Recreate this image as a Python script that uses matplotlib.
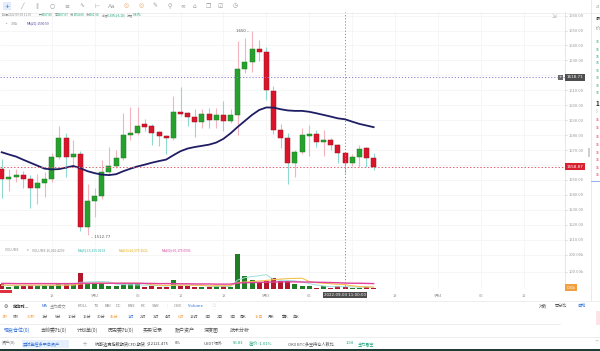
import numpy as np
import matplotlib
matplotlib.use("Agg")
import matplotlib.pyplot as plt
from matplotlib import transforms
from matplotlib.lines import Line2D
from matplotlib.patches import Rectangle

plt.rcParams['font.family'] = ['Noto Sans CJK SC', 'DejaVu Sans']

W, H = 600, 351

# hourly candles 2022-09-01 11:00 .. 2022-09-03 15:00
opens = [1557.1, 1550.4, 1552.2, 1553.3, 1550.6, 1544.8, 1548.2, 1550.4, 1565.6, 1577.9,
         1565.6, 1567.4, 1518.7, 1536.1, 1539.4, 1555.1, 1559.6, 1564.5, 1580.1, 1581.6,
         1587.3, 1586.1, 1581.9, 1579.6, 1578.0, 1595.7, 1594.6, 1591.8, 1588.7, 1594.0,
         1590.1, 1593.5, 1589.7, 1593.5, 1624.1, 1628.8, 1637.5, 1635.9, 1609.8, 1583.4,
         1578.3, 1561.5, 1568.5, 1579.6, 1580.6, 1575.4, 1576.7, 1573.4, 1567.66, 1561.56,
         1565.2, 1571.2, 1564.5]
highs = [1564.0, 1557.1, 1557.1, 1556.2, 1553.3, 1553.8, 1555.1, 1568.2, 1586.1, 1581.6,
         1576.7, 1569.4, 1547.3, 1544.4, 1563.4, 1572.3, 1570.0, 1595.0, 1599.1, 1598.6,
         1591.0, 1587.5, 1582.5, 1580.3, 1606.2, 1612.0, 1595.5, 1597.3, 1597.3, 1598.4,
         1598.0, 1602.9, 1597.3, 1643.3, 1644.9, 1650.0, 1643.7, 1638.8, 1612.9, 1587.3,
         1581.2, 1570.0, 1585.0, 1586.8, 1583.4, 1583.4, 1577.9, 1574.0, 1567.67, 1567.0,
         1573.4, 1572.0, 1567.8]
lows = [1537.7, 1542.6, 1548.8, 1544.8, 1531.4, 1533.9, 1538.8, 1548.5, 1564.0, 1552.2,
        1558.9, 1516.0, 1512.77, 1525.0, 1537.5, 1554.0, 1558.0, 1563.5, 1576.7, 1580.0,
        1583.0, 1573.4, 1572.7, 1567.4, 1577.0, 1593.0, 1586.3, 1578.6, 1584.6, 1584.6,
        1585.0, 1582.8, 1588.0, 1580.1, 1621.4, 1622.5, 1629.9, 1603.5, 1580.8, 1571.2,
        1547.1, 1552.2, 1567.0, 1566.0, 1572.3, 1566.0, 1570.0, 1561.1, 1554.65, 1559.0,
        1558.9, 1558.9, 1556.7]
closes = [1550.4, 1552.2, 1553.3, 1550.6, 1544.8, 1548.2, 1550.4, 1565.2, 1577.9, 1565.6,
          1567.4, 1518.7, 1536.1, 1539.4, 1555.1, 1559.6, 1564.5, 1580.1, 1581.6, 1586.1,
          1585.6, 1581.6, 1579.6, 1578.3, 1595.7, 1594.0, 1592.4, 1588.7, 1594.0, 1590.1,
          1593.5, 1589.7, 1593.5, 1624.1, 1628.8, 1637.7, 1635.9, 1610.2, 1583.4, 1578.3,
          1561.5, 1568.5, 1579.9, 1580.8, 1575.6, 1576.7, 1573.4, 1568.2, 1561.56, 1565.2,
          1570.7, 1564.5, 1558.87]
ma20 = [1568.5, 1567.0, 1565.6, 1563.5, 1561.5, 1559.5, 1557.5, 1557.0, 1557.2, 1558.2,
        1559.3, 1557.8, 1555.8, 1554.5, 1553.5, 1553.2, 1553.8, 1555.8, 1557.5, 1559.0,
        1560.2, 1561.5, 1562.6, 1563.6, 1566.5, 1569.2, 1571.0, 1572.0, 1572.8, 1573.6,
        1575.0, 1577.5, 1581.2, 1585.5, 1589.5, 1593.5, 1596.8, 1598.5, 1598.4, 1597.3,
        1596.5, 1596.2, 1596.2, 1595.6, 1594.6, 1593.5, 1592.4, 1591.2, 1590.59, 1589.0,
        1587.5, 1586.4, 1585.3]
# volume in thousands
volumes = [29, 15, 19, 19, 25, 25, 23, 23, 29, 29, 29, 92, 35, 35, 35, 19, 19, 29, 29, 29,
           15, 19, 15, 15, 54, 19, 19, 15, 15, 15, 21, 19, 15, 202, 79, 54, 40, 50, 64, 50,
           50, 29, 19, 19, 9, 19, 9, 19, 16, 9, 9, 15, 9]
vol_ma5 = [22, 22, 21, 21, 21, 21, 22, 23, 25, 26, 27, 40, 43, 44, 45, 43, 29, 27, 26, 25,
           24, 24, 21, 19, 24, 24, 24, 24, 25, 17, 17, 17, 17, 54, 67, 74, 78, 85, 57, 52,
           51, 49, 42, 33, 25, 19, 15, 15, 15, 14, 12, 14, 12]
vol_ma10 = [25, 24, 24, 24, 24, 24, 24, 24, 24, 24, 24, 31, 33, 35, 36, 35, 35, 35, 35, 35,
            34, 26, 24, 22, 24, 24, 24, 23, 22, 20, 21, 21, 21, 39, 42, 45, 48, 51, 56, 59,
            62, 63, 64, 45, 38, 35, 32, 29, 27, 20, 16, 14, 13]
vol_ma30 = [34, 34, 33, 33, 33, 33, 33, 33, 33, 33, 33, 35, 35, 35, 35, 35, 35, 35, 35, 35,
            34, 34, 33, 33, 33, 32, 32, 31, 31, 31, 30, 30, 30, 36, 38, 39, 40, 41, 42, 43,
            43, 43, 42, 42, 41, 40, 39, 38, 36, 35, 35, 34, 33]

time_ticks = [7, 13, 19, 25, 31, 37, 43, 49, 55, 61, 67, 73]
time_labels = ["18", "9月2", "06", "12", "18", "9月3", "06", "12", "18", "9月4", "06", "12"]
price_ticks = list(range(1510, 1661, 10))
last_price = 1558.87
cross_price = 1618.71
cross_idx = 48
cross_time = "2022-09-03 11:00:00"
hi_idx, lo_idx = 35, 12

GREEN, RED = '#27a12d', '#d8152b'
GRAY = '#8a8a8a'
TXT_GREEN = '#14a078'
BLUE = '#2f6fd6'
ORANGE = '#f0a040'


def rect(x0, y0, x1, y1):
    return [x0 / W, 1 - y1 / H, (x1 - x0) / W, (y1 - y0) / H]


fig = plt.figure(figsize=(6, 3.51), dpi=100)
fig.patch.set_facecolor('white')


def T(x, y, s, size=3.0, color=GRAY, **kw):
    kw.setdefault('va', 'center')
    return fig.text(x / W, 1 - y / H, s, fontsize=size, color=color, **kw)


def hline(y, x0=0, x1=600, color='#ebebeb', lw=0.6):
    fig.add_artist(Line2D([x0 / W, x1 / W], [1 - y / H] * 2, color=color, lw=lw))


o = np.array(opens); c = np.array(closes)
hi = np.array(highs); lo = np.array(lows)
idx = np.arange(len(o))
up = c >= o
xlim = (-0.24, 78.69)

# ---- price pane
ax = fig.add_axes(rect(0, 12.5, 564.5, 246))
ax.set_xlim(*xlim)
ax.set_ylim(1505.7, 1662.1)
for s in ['top', 'left', 'bottom']:
    ax.spines[s].set_visible(False)
ax.spines['right'].set_color('#e3e3e3')
ax.spines['right'].set_linewidth(0.6)
ax.yaxis.tick_right()
ax.set_yticks(price_ticks)
# labels hidden where the price boxes sit
ax.set_yticklabels(["" if min(abs(p - last_price), abs(p - cross_price)) < 4 else f"{p:.2f}"
                    for p in price_ticks])
ax.tick_params(axis='y', length=1.5, width=0.4, color='#bbbbbb', pad=1.5,
               labelsize=3, labelcolor='#999999')
ax.set_xticks(time_ticks)
ax.tick_params(axis='x', length=0, labelbottom=False)
ax.grid(True, color='#f3f3f3', lw=0.5)
ax.set_axisbelow(True)

ax.vlines(idx[up], lo[up], hi[up], color='#f3b5bd', lw=0.8, zorder=2)
ax.vlines(idx[~up], lo[~up], hi[~up], color='#8fd9cf', lw=0.8, zorder=2)
body_lo = np.minimum(o, c)
body_h = np.maximum(np.abs(c - o), 1.0)
ax.bar(idx, body_h, bottom=body_lo, width=0.7,
       color=np.where(up, GREEN, RED), edgecolor=np.where(up, '#1b7d22', '#a9111f'),
       linewidth=0.35, zorder=3)
ax.plot(idx, ma20, color='#1f1d63', lw=1.3, zorder=4)

ax.axhline(cross_price, color='#8b80d2', lw=0.7, ls=(0, (1.2, 2)), zorder=5)
ax.axhline(last_price, color='#e26070', lw=0.7, ls=(0, (1.5, 2)), zorder=5)
ax.axvline(cross_idx, color='#8b80d2', lw=0.7, ls=(0, (1.2, 2)), zorder=5)

ax.text(hi_idx - 0.4, highs[hi_idx], f"{highs[hi_idx]:.0f} –", ha='right', va='center',
        fontsize=2.8, color='#555555', family='DejaVu Sans')
ax.text(lo_idx + 0.5, lows[lo_idx] - 1.2, f"– {lows[lo_idx]:.2f}", ha='left', va='center',
        fontsize=2.8, color='#555555', family='DejaVu Sans')

py = transforms.blended_transform_factory(fig.transFigure, ax.transData)
fig.text(566.5 / W, cross_price, f"{cross_price:.2f}", transform=py, fontsize=3,
         color='white', va='center', ha='left', family='DejaVu Sans',
         bbox=dict(boxstyle='square,pad=0.35', fc='#4d4d4d', ec='none'))
fig.text(560.5 / W, cross_price, "+", transform=py, fontsize=3.2, color='white',
         va='center', ha='center', family='DejaVu Sans',
         bbox=dict(boxstyle='square,pad=0.15', fc='#6a6a6a', ec='none'))
fig.text(566.5 / W, last_price, f"{last_price:.2f}", transform=py, fontsize=3,
         color='white', va='center', ha='left', family='DejaVu Sans',
         bbox=dict(boxstyle='square,pad=0.35', fc='#d9202f', ec='none'))

# ---- volume pane
axv = fig.add_axes(rect(0, 247, 564.5, 289.3))
axv.set_xlim(*xlim)
axv.set_ylim(0, 244.5)
for s in ['top', 'left', 'bottom']:
    axv.spines[s].set_visible(False)
axv.spines['right'].set_color('#e3e3e3')
axv.spines['right'].set_linewidth(0.6)
axv.yaxis.tick_right()
axv.set_yticks([100, 200])
axv.set_yticklabels(["100.00k", "200.00k"])
axv.tick_params(axis='y', length=1.5, width=0.4, color='#bbbbbb', pad=1.5,
                labelsize=3, labelcolor='#999999')
axv.set_xticks(time_ticks)
# the label under the crosshair is covered by the time box
axv.set_xticklabels(["" if t == cross_idx + 1 else s for t, s in zip(time_ticks, time_labels)])
axv.tick_params(axis='x', length=0, pad=3.2, labelsize=2.9, labelcolor='#999999')
axv.grid(True, color='#f3f3f3', lw=0.5)
axv.set_axisbelow(True)
axv.bar(idx, volumes, width=0.7, color=np.where(up, '#1f7d23', '#b3172b'), zorder=3)
axv.plot(idx, vol_ma5, color='#9fe0da', lw=0.7, zorder=4)
axv.plot(idx, vol_ma10, color='#f5c24c', lw=0.8, zorder=4)
axv.plot(idx, vol_ma30, color='#e0429c', lw=1.0, zorder=4)
axv.axvline(cross_idx, color='#8b80d2', lw=0.7, ls=(0, (1.2, 2)), zorder=5)

vy = transforms.blended_transform_factory(fig.transFigure, axv.transData)
fig.text(566.5 / W, 9, "0.0k", transform=vy, fontsize=3, color='white', va='center',
         ha='left', family='DejaVu Sans',
         bbox=dict(boxstyle='square,pad=0.35', fc=ORANGE, ec='none'))
tx = transforms.blended_transform_factory(axv.transData, fig.transFigure)
fig.text(cross_idx, 1 - 295 / H, cross_time, transform=tx, fontsize=2.9, color='white',
         va='center', ha='center', family='DejaVu Sans',
         bbox=dict(boxstyle='square,pad=0.35', fc='#4d4d4d', ec='none'))

# ---- top toolbar and header texts
tools = ["+", "╱", "∥", "○", "≡", "∿", "⊢", "Aa", "◎", "◎", "✎", "⚲", "∞", "⌂", "❐", "☑", "◷"]
tool_x = [7, 22, 37, 52, 67, 82, 97, 112, 126, 141, 155, 170, 183, 194, 208, 220, 235]
fig.patches.append(Rectangle((3 / W, 1 - 10 / H), 8 / W, 8 / H, transform=fig.transFigure,
                             fc='#e3ecfb', ec='none', zorder=0))
for x, t in zip(tool_x, tools):
    col = BLUE if x == tool_x[0] else ('#e8b07a' if t == "◎" else '#9a9a9a')
    T(x, 6, t, size=4.2, color=col, ha='center', family=['DejaVu Sans'])
hline(12.5, 0, 600, color='#ececec')

head = [(2, "时间2022-09-03 11:00", GRAY), (39, "开", GRAY), (41.7, "1567.66", TXT_GREEN),
        (54.7, "高", GRAY), (57.3, "1567.67", TXT_GREEN), (70.3, "低", GRAY),
        (73.3, "1554.65", TXT_GREEN), (86, "收", GRAY), (88.7, "1561.56", TXT_GREEN),
        (101.7, "涨幅", GRAY), (106.7, "-0.39%(-6.10)", TXT_GREEN), (127.3, "振幅", GRAY),
        (132.7, "0.83%", TXT_GREEN)]
for x, s, col in head:
    T(x, 15, s, size=2.2, color=col)
T(4, 23.5, "⌄", size=2.6, color=GRAY)
T(10, 23.5, "◌MA", size=2.3, color=GRAY)
T(27, 23.5, "MA(20):1590.59", size=2.3, color='#4b3f9e')
T(554, 16.5, "⇲", size=4, color='#b0b0b0', ha='center', family=['DejaVu Sans'])

vh = [(5, "VOLUME", GRAY), (27, "▾", GRAY), (32, "VOLUME:16,020.4299", GRAY),
      (78, "MA(5):15,155.0193", '#2ab3a6'), (119, "MA(10):26,579.1611", '#e3a400'),
      (162, "MA(30):36,175.0591", '#d63f9c')]
for x, s, col in vh:
    T(x, 250, s, size=2.4, color=col)

# ---- lower toolbar
fig.patches.append(Rectangle((0, 1 - 292.7 / H), 12 / W, 3 / H, transform=fig.transFigure,
                             fc='#e03040', ec='none'))
hline(300.5)
T(4, 306, "⚙", size=3.4, color='#444444', family=['DejaVu Sans'])
T(12.7, 306, "定位到...", size=3, color='#333333', weight='bold')
inds = [(42, "MA", BLUE), (50, "主力成交", GRAY), (78, "BOLL", GRAY), (94, "TD", GRAY),
        (105, "BBI", GRAY), (116, "DC", GRAY), (128, "ENE", GRAY), (141, "KC", GRAY),
        (152, "SAR", GRAY), (167, "|", '#dddddd'), (174, "OBV", GRAY),
        (188, "Volume", BLUE), (212, "◌", GRAY)]
for x, s, col in inds:
    T(x, 306, s, size=3, color=col)
T(539, 306, "对数", size=3, color='#555555')
T(555, 306, "百分比", size=3, color='#555555')
T(577, 306, "自动", size=3, color=BLUE)

periods = ["1秒", "5秒", "30秒", "1分", "5分", "10分", "15分", "30分", "45分", "1时", "2时",
           "3时", "4时", "6时", "12时", "1日", "2日", "3日", "周K", "15日", "月K", "季K", "年K"]
period_x = [2, 13, 27, 42, 55, 68, 83, 97, 110, 128, 140, 153, 165, 178, 190, 205, 217,
            230, 240, 255, 268, 282, 293]
for x, s in zip(period_x, periods):
    col = ORANGE if s in ("1秒", "30秒", "45分", "6时", "15日") else ('#2f6fd6' if s == "1时" else '#555555')
    T(x, 317, s, size=2.9, color=col)
hline(323.5, 0, 560)

tabs = [(4, "现货仓位(0)", BLUE), (40, "当前委托(0)", '#555555'), (77, "计划单(0)", '#555555'),
        (108, "历史委托(0)", '#555555'), (143, "买卖记录", '#555555'), (175, "账户资产", '#555555'),
        (204, "深度图", '#555555'), (230, "技术分析", '#555555')]
for x, s, col in tabs:
    T(x, 330.5, s, size=3.6, color=col)
hline(337)

fig.patches.append(Rectangle((21.5 / W, 1 - 347.5 / H), 47 / W, 8 / H, transform=fig.transFigure,
                             fc='#e6effc', ec='none'))
bottom = [(2, "资产(0)", '#666666'), (23, "实时监控多平台资产", BLUE), (83, "☆", '#888888'),
          (95, "纳斯达克指数期货CFD 期货", '#444444'), (147, "$12121.475", '#444444'),
          (175, "0%", '#444444'), (204, "USDT场外", '#555555'), (233, "¥6.83", TXT_GREEN),
          (249, "溢价 -1.01%", TXT_GREEN), (288, "OKX BTC多空持仓人数比", '#555555'),
          (346, "1.94", TXT_GREEN), (358, "主力看空", TXT_GREEN)]
for x, s, col in bottom:
    T(x, 343.5, s, size=3, color=col)
T(595, 343.5, "♡", size=3.3, color='#999999', family=['DejaVu Sans'])
fig.patches.append(Rectangle((0, 0), 1, 2 / H, transform=fig.transFigure,
                             fc='#1f3b36', ec='none'))

# ---- right side panel (cut off in the screenshot)
fig.add_artist(Line2D([590.5 / W] * 2, [1, 1 - 300 / H], color='#e6e6e6', lw=0.6))
T(595.5, 7, "24", size=2.5, color='#999999')
T(595.5, 19, "最", size=3, color='#333333')
T(595.5, 29, "价", size=3, color='#888888')
for y in [41.7, 50, 56.7, 63.3, 70.7, 78.3, 86, 93.3]:
    T(595.5, y, "16", size=2.5, color=TXT_GREEN)
T(595.5, 104, "1", size=4.5, color='#222222', weight='bold')
T(595.5, 111.5, "$", size=2.5, color='#999999')
for y in [120, 128.3, 136.7, 145, 153.3, 160, 168.3, 175]:
    T(595.5, y, "15", size=2.5, color='#e0303f')
fig.add_artist(Line2D([590.5 / W, 1], [1 - 181 / H] * 2, color='#7aa7e8', lw=0.6))
fig.patches.append(Rectangle((587.5 / W, 1 - 157 / H), 2 / W, 9 / H, transform=fig.transFigure,
                             fc='#cfcfcf', ec='none'))
fig.patches.append(Rectangle((596 / W, 1 - 325 / H), 4 / W, 14 / H, transform=fig.transFigure,
                             fc='#fbe3e6', ec='none'))

fig.savefig("out.png", dpi=100)
